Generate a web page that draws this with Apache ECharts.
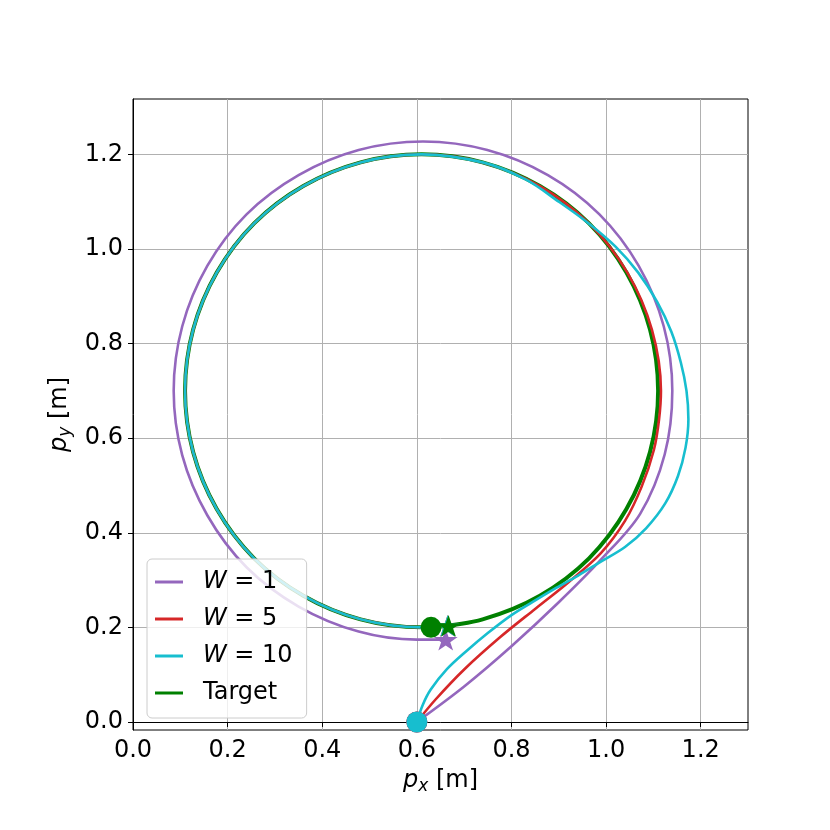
<!DOCTYPE html>
<html>
<head>
<meta charset="utf-8">
<script src="https://cdn.jsdelivr.net/npm/echarts@6/dist/echarts.min.js"></script>
<style>html,body{margin:0;padding:0;background:#fff}#c{width:830px;height:830px}</style>
</head>
<body>
<div id="c"></div>
<script>
// ---- data ----
const seriesNames = ['W=1', 'W=5', 'W=10', 'Target'];
const legendLabels = ['{i|W} = 1', '{i|W} = 5', '{i|W} = 10', 'Target'];
const xTicks = [0.0, 0.2, 0.4, 0.6, 0.8, 1.0, 1.2];
const yTicks = [0.0, 0.2, 0.4, 0.6, 0.8, 1.0, 1.2];

const targetPath = [
  [0.630,0.200],[0.739,0.217],[0.860,0.267],[0.964,0.346],[1.043,0.450],[1.093,0.571],
  [1.110,0.700],[1.093,0.829],[1.043,0.950],[0.964,1.054],[0.860,1.133],[0.739,1.183],
  [0.610,1.200],[0.481,1.183],[0.360,1.133],[0.256,1.054],[0.177,0.950],[0.127,0.829],
  [0.110,0.700],[0.127,0.571],[0.177,0.450],[0.256,0.346],[0.360,0.267],[0.481,0.217],
  [0.610,0.200],[0.667,0.203]
];
const w1Path = [
  [0.600,0.000],[0.700,0.075],[0.800,0.160],[0.900,0.253],[0.989,0.343],[1.072,0.440],
  [1.124,0.566],[1.140,0.700],[1.122,0.836],[1.069,0.964],[0.986,1.073],[0.877,1.156],
  [0.749,1.209],[0.613,1.227],[0.477,1.209],[0.350,1.156],[0.240,1.073],[0.157,0.964],
  [0.104,0.836],[0.086,0.700],[0.104,0.564],[0.157,0.437],[0.240,0.327],[0.350,0.244],
  [0.477,0.191],[0.600,0.174],[0.661,0.174]
];
const w5Path = [
  [0.600,0.000],[0.640,0.048],[0.700,0.111],[0.777,0.180],[0.850,0.239],[0.920,0.295],
  [0.989,0.357],[1.040,0.425],[1.075,0.497],[1.101,0.575],[1.112,0.640],[1.116,0.700],
  [1.097,0.829],[1.045,0.950],[0.964,1.054],[0.860,1.133],[0.739,1.183],[0.610,1.200],
  [0.481,1.183],[0.360,1.133],[0.256,1.054],[0.177,0.950],[0.127,0.829],[0.110,0.700],
  [0.127,0.571],[0.177,0.450],[0.256,0.346],[0.360,0.267],[0.481,0.217],[0.610,0.200],
  [0.665,0.203]
];
const w10Path = [
  [0.600,0.000],[0.612,0.035],[0.629,0.068],[0.664,0.112],[0.705,0.150],[0.750,0.188],
  [0.800,0.226],[0.845,0.254],[0.890,0.281],[0.940,0.309],[0.989,0.339],[1.040,0.370],
  [1.085,0.410],[1.125,0.462],[1.152,0.520],[1.168,0.580],[1.174,0.640],[1.170,0.700],
  [1.158,0.760],[1.138,0.825],[1.108,0.888],[1.068,0.950],[1.020,1.005],[0.962,1.055],
  [0.900,1.100],[0.830,1.147],[0.739,1.183],[0.610,1.200],[0.481,1.183],[0.360,1.133],
  [0.256,1.054],[0.177,0.950],[0.127,0.829],[0.110,0.700],[0.127,0.571],[0.177,0.450],
  [0.256,0.346],[0.360,0.267],[0.481,0.217],[0.610,0.200],[0.665,0.203]
];
const startPoints = [[0.600,0.000],[0.600,0.000],[0.600,0.000],[0.630,0.200]];
const endPoints   = [[0.661,0.174],[0.665,0.203],[0.665,0.203],[0.667,0.203]];

// ---- styling ----
const colors = ['#9467bd', '#d62728', '#17becf', '#008000'];
const paths = [w1Path, w5Path, w10Path, targetPath];
const FONT = 'DejaVu Sans';
const STAR = 'path://M0,-1L0.2245,-0.309L0.951,-0.309L0.363,0.118L0.588,0.809L0,0.382L-0.588,0.809L-0.363,0.118L-0.951,-0.309L-0.2245,-0.309Z';

const series = [];
[3, 0, 1, 2].forEach(function (i) {
  series.push({
    name: seriesNames[i], type: 'line', data: paths[i], showSymbol: false, symbol: 'none',
    smooth: 0.33, z: 2,
    lineStyle: { color: colors[i], width: i === 3 ? 4 : 2.6 },
    itemStyle: { color: colors[i] }, animation: false
  });
});
[0, 1, 2, 3].forEach(function (i) {
  series.push({
    type: 'scatter', data: [startPoints[i]], symbol: 'circle', symbolSize: 21, z: i === 3 ? 6 : 3 + i * 0.1,
    itemStyle: { color: colors[i], opacity: 1 }, animation: false, silent: true
  });
  series.push({
    type: 'scatter', data: [endPoints[i]], symbol: STAR, symbolSize: [24, 23], symbolKeepAspect: true,
    z: i === 3 ? 6 : 3 + i * 0.1,
    itemStyle: { color: colors[i], opacity: 1 }, animation: false, silent: true
  });
});

const nameRich = {
  i: { fontFamily: FONT, fontStyle: 'italic', fontSize: 24, color: '#000' },
  s: { fontFamily: FONT, fontStyle: 'italic', fontSize: 17, color: '#000', padding: [12, 0, 0, 0] },
  n: { fontFamily: FONT, fontSize: 24, color: '#000' }
};

const chart = echarts.init(document.getElementById('c'), null, { renderer: 'canvas' });
chart.setOption({
  animation: false,
  backgroundColor: '#fff',
  grid: { left: 133, top: 99, width: 615, height: 631, show: true, borderColor: '#000', borderWidth: 1, backgroundColor: 'transparent' },
  legend: {
    data: seriesNames.map(function (n) { return { name: n, icon: 'rect' }; }),
    orient: 'vertical', left: 147, top: 559,
    itemWidth: 28, itemHeight: 3, itemGap: 9,
    padding: [9, 14, 11, 8],
    backgroundColor: 'rgba(255,255,255,0.8)', borderColor: '#cccccc', borderWidth: 1, borderRadius: 5,
    formatter: function (name) { return legendLabels[seriesNames.indexOf(name)]; },
    textStyle: {
      fontFamily: FONT, fontSize: 24, color: '#000', lineHeight: 28, padding: [0, 0, 0, 15],
      rich: { i: { fontFamily: FONT, fontStyle: 'italic', fontSize: 24, color: '#000' } }
    },
    selectedMode: false
  },
  xAxis: {
    type: 'value', min: 0, max: 1.3,
    name: '{i|p}{s|x}{n| [m]}', nameLocation: 'middle', nameGap: 36,
    nameTextStyle: { rich: nameRich },
    axisLine: { show: true, lineStyle: { color: '#000', width: 1 } },
    axisTick: { show: true, length: 5, lineStyle: { color: '#000', width: 1 }, customValues: xTicks },
    axisLabel: { customValues: xTicks, margin: 9, fontFamily: FONT, fontSize: 24, color: '#000',
      formatter: function (v) { return v.toFixed(1); } },
    splitLine: { show: true, lineStyle: { color: '#b0b0b0', width: 1 } }
  },
  yAxis: {
    type: 'value', min: -0.017, max: 1.317,
    name: '{i|p}{s|y}{n| [m]}', nameLocation: 'middle', nameGap: 58,
    nameTextStyle: { rich: nameRich },
    axisLine: { show: true, lineStyle: { color: '#000', width: 1 } },
    axisTick: { show: true, length: 5, lineStyle: { color: '#000', width: 1 }, customValues: yTicks },
    axisLabel: { customValues: yTicks, margin: 10, fontFamily: FONT, fontSize: 24, color: '#000',
      formatter: function (v) { return v.toFixed(1); } },
    splitLine: { show: true, lineStyle: { color: '#b0b0b0', width: 1 } }
  },
  series: series
});
</script>
</body>
</html>
